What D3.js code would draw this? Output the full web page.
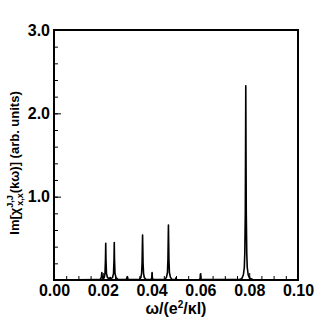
<!DOCTYPE html>
<html><head><meta charset="utf-8">
<script src="https://cdn.jsdelivr.net/npm/d3@7"></script>
<style>
html,body{margin:0;padding:0;background:#fff;}
svg{display:block;font-family:"Liberation Sans",Arial,sans-serif;}
</style></head>
<body>
<svg id="c" width="329" height="329"></svg>
<script>
// Data: spectrum sample points
const omega = [
  0.0000, 0.0180, 0.0190, 0.0194, 0.0196, 0.0198, 0.0202,
  0.0206, 0.0209, 0.0211, 0.0212, 0.0213, 0.0215, 0.0219,
  0.0226, 0.0230, 0.0234,
  0.0240, 0.0244, 0.0246, 0.0247, 0.0248, 0.0250, 0.0254, 0.0262,
  0.0296, 0.0300, 0.0304,
  0.0350, 0.0356, 0.0359, 0.0361, 0.0362, 0.0363, 0.0364, 0.0365, 0.0367, 0.0370, 0.0376,
  0.0398, 0.0401, 0.0402, 0.0403, 0.0406,
  0.0455, 0.0461, 0.0465, 0.0467, 0.0468, 0.0469, 0.0470, 0.0471, 0.0473, 0.0477, 0.0483,
  0.0497, 0.0500, 0.0503,
  0.0596, 0.0599, 0.0600, 0.0601, 0.0604,
  0.0760, 0.0770, 0.0776, 0.0780, 0.0782, 0.0784, 0.0785, 0.0786, 0.0787, 0.0788, 0.0790, 0.0792, 0.0796, 0.0802, 0.0815,
  0.1000
];
const imChi = [
  0.000, 0.004, 0.010, 0.030, 0.090, 0.030, 0.015,
  0.030, 0.080, 0.250, 0.440, 0.250, 0.080, 0.030,
  0.015, 0.030, 0.015,
  0.030, 0.080, 0.250, 0.450, 0.250, 0.080, 0.030, 0.008,
  0.004, 0.040, 0.004,
  0.008, 0.030, 0.080, 0.200, 0.380, 0.540, 0.380, 0.200, 0.080, 0.030, 0.008,
  0.004, 0.030, 0.090, 0.030, 0.004,
  0.008, 0.035, 0.090, 0.250, 0.450, 0.660, 0.450, 0.250, 0.090, 0.035, 0.008,
  0.003, 0.025, 0.003,
  0.004, 0.020, 0.070, 0.020, 0.004,
  0.004, 0.020, 0.060, 0.150, 0.320, 0.800, 1.500, 2.330, 1.500, 0.800, 0.320, 0.150, 0.060, 0.020, 0.005,
  0.000
];
const xTicks = [0, 0.02, 0.04, 0.06, 0.08, 0.10];
const xTickLabels = ["0.00", "0.02", "0.04", "0.06", "0.08", "0.10"];
const yTicks = [1, 2, 3];
const yTickLabels = ["1.0", "2.0", "3.0"];

const svg = d3.select("#c");
const m = {l: 54, r: 31, t: 30, b: 49};
const W = 329, H = 329;
const x = d3.scaleLinear().domain([0, 0.1]).range([m.l, W - m.r]);
const y = d3.scaleLinear().domain([0, 3]).range([H - m.b, m.t]);

// minor ticks
const gx = svg.append("g").attr("transform", `translate(0,${H - m.b})`)
  .call(d3.axisBottom(x).tickValues(d3.range(0, 0.1001, 0.005)).tickSize(-4).tickFormat(""));
gx.select(".domain").remove();
const gxM = svg.append("g").attr("transform", `translate(0,${H - m.b})`)
  .call(d3.axisBottom(x).tickValues(xTicks).tickSize(-7).tickPadding(5)
    .tickFormat((d, i) => xTickLabels[i]));
gxM.select(".domain").remove();
const gy = svg.append("g").attr("transform", `translate(${m.l},0)`)
  .call(d3.axisLeft(y).tickValues(d3.range(0, 3.001, 0.2)).tickSize(-4).tickFormat(""));
gy.select(".domain").remove();
const gyM = svg.append("g").attr("transform", `translate(${m.l},0)`)
  .call(d3.axisLeft(y).tickValues(yTicks).tickSize(-7).tickPadding(4)
    .tickFormat((d, i) => yTickLabels[i]));
gyM.select(".domain").remove();
svg.selectAll(".tick line").attr("stroke", "#000").attr("stroke-width", 1);
svg.selectAll(".tick text").attr("fill", "#000").attr("font-size", 16).attr("font-weight", "bold")
  .attr("font-family", "'Liberation Sans',Arial,sans-serif");

// curve
const pts = omega.map((o, i) => [o, imChi[i]]);
svg.append("path").datum(pts)
  .attr("fill", "none").attr("stroke", "#000").attr("stroke-width", 1.6)
  .attr("stroke-linejoin", "round")
  .attr("d", d3.line().x(d => x(d[0])).y(d => y(d[1])));

// frame
svg.append("rect").attr("x", m.l).attr("y", m.t)
  .attr("width", W - m.l - m.r).attr("height", H - m.t - m.b)
  .attr("fill", "none").attr("stroke", "#000").attr("stroke-width", 2);

// x title
const xt = svg.append("text").attr("x", (m.l + W - m.r) / 2).attr("y", 314)
  .attr("text-anchor", "middle").attr("font-size", 16).attr("font-weight", "bold").attr("fill", "#000");
xt.append("tspan").text("ω/(e");
xt.append("tspan").text("2").attr("font-size", 10).attr("dy", -6);
xt.append("tspan").text("/κl)").attr("dy", 6);

// y title
const yg = svg.append("g").attr("transform", "translate(19,163) rotate(-90)");
const yt = yg.append("text").attr("font-size", 13).attr("font-weight", "bold").attr("fill", "#000");
const p1 = yt.append("tspan").text("Im[χ");
const sup = yt.append("tspan").text("J,J").attr("font-size", 9).attr("dy", -6);
const sub = yt.append("tspan").text("x,x").attr("font-size", 9);
const p2 = yt.append("tspan").text("(kω)] (arb. units)");
const supW = sup.node().getComputedTextLength();
const subW = sub.node().getComputedTextLength();
sub.attr("dx", -supW + 2).attr("dy", 10);
p2.attr("dy", -4).attr("dx", Math.max(0, supW - subW - 2));
const tw = yt.node().getBBox().width;
yt.attr("x", -tw / 2);
</script>
</body></html>
